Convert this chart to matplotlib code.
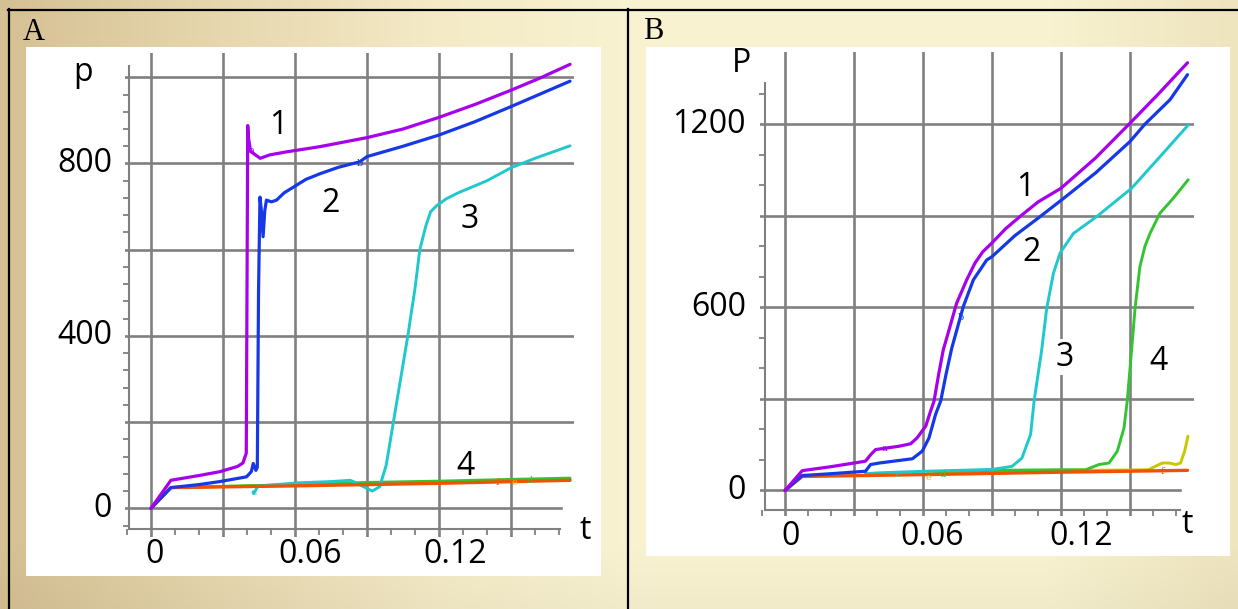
import numpy as np
import matplotlib
matplotlib.use("Agg")
import matplotlib.pyplot as plt
from matplotlib.ticker import MultipleLocator, FixedLocator
from matplotlib.patches import Rectangle
from matplotlib.lines import Line2D

# ---------------- data : panel A ----------------
a1_t = [0, 0.0083, 0.02, 0.0287, 0.036, 0.0383, 0.0397, 0.0400, 0.0403, 0.0406, 0.0415, 0.0435,
        0.0455, 0.0495, 0.0565, 0.0703, 0.09, 0.105, 0.12, 0.135, 0.15, 0.162, 0.1746]
a1_p = [0, 65, 76, 85, 97, 105, 128, 500, 888, 860, 828, 820, 812, 820, 827, 839, 860, 880, 907,
        937, 970, 998, 1030]
a2_t = [0, 0.0083, 0.02, 0.0287, 0.0398, 0.0418, 0.0426, 0.0437, 0.0443, 0.0448, 0.0454, 0.0460,
        0.0467, 0.0474, 0.0481, 0.0502, 0.0523, 0.0555, 0.0593, 0.0645, 0.0703, 0.078, 0.087, 0.09,
        0.105, 0.12, 0.135, 0.15, 0.1746]
a2_p = [0, 48, 55, 62, 73, 85, 104, 88, 95, 500, 722, 690, 630, 690, 715, 711, 715, 732, 745, 763,
        776, 791, 804, 816, 840, 866, 897, 932, 991]
a3_t = [0.0425, 0.0428, 0.0445, 0.05, 0.061, 0.075, 0.083, 0.0855, 0.09, 0.0922, 0.0953, 0.098,
        0.101, 0.104, 0.107, 0.110, 0.112, 0.1145, 0.1165, 0.119, 0.123, 0.128, 0.14, 0.15, 0.16,
        0.1746]
a3_p = [38, 34, 51, 54, 59, 62, 65, 59, 46, 40, 50, 100, 200, 300, 400, 510, 600, 655, 688, 702,
        718, 732, 760, 790, 812, 841]
a_green_t = [0, 0.0083, 0.06, 0.09, 0.12, 0.15, 0.1746]
a_green_p = [0, 48, 55, 60, 63, 67, 70]
a_yellow_t = [0, 0.0083, 0.06, 0.12, 0.1746]
a_yellow_p = [0, 48, 54, 61, 68]
a_orange_t = [0, 0.0083, 0.06, 0.12, 0.1746]
a_orange_p = [0, 48, 52, 58, 65]

# ---------------- data : panel B ----------------
b1_t = [0, 0.0075, 0.02, 0.035, 0.0372, 0.0394, 0.0496, 0.0546, 0.0574, 0.0612, 0.0633, 0.0648,
        0.0668, 0.0688, 0.0717, 0.0746, 0.079, 0.0826, 0.086, 0.09, 0.096, 0.1026, 0.11, 0.12,
        0.135, 0.1496, 0.1625, 0.175]
b1_p = [0, 65, 78, 96, 117, 134, 145, 153, 172, 211, 260, 293, 380, 460, 536, 613, 690, 745, 782,
        811, 858, 900, 945, 990, 1089, 1200, 1300, 1401]
b2_t = [0, 0.0075, 0.02, 0.035, 0.0372, 0.041, 0.0554, 0.0597, 0.0626, 0.0655, 0.0677, 0.070,
        0.0725, 0.0775, 0.0819, 0.0877, 0.09, 0.1, 0.1109, 0.1203, 0.135, 0.15, 0.1565, 0.1674,
        0.175]
b2_p = [0, 49, 55, 63, 85, 90, 104, 129, 172, 250, 293, 380, 466, 602, 690, 755, 766, 835, 897,
        952, 1040, 1143, 1200, 1280, 1362]
b3_t = [0.035, 0.041, 0.061, 0.09, 0.0987, 0.103, 0.1068, 0.1083, 0.1116, 0.1138, 0.1167, 0.1196,
        0.1254, 0.1355, 0.1507, 0.163, 0.1753]
b3_p = [55, 58, 63, 69, 79, 106, 184, 293, 460, 597, 711, 778, 842, 897, 990, 1093, 1197]
b4_t = [0.065, 0.09, 0.12, 0.1307, 0.1365, 0.1409, 0.1445, 0.1474, 0.1488, 0.1507, 0.1522, 0.1543,
        0.1565, 0.1587, 0.163, 0.1688, 0.1753]
b4_p = [62, 66, 68, 68, 85, 90, 129, 205, 293, 460, 597, 733, 800, 842, 908, 957, 1018]
b_yellow_t = [0.062, 0.09, 0.12, 0.15, 0.158, 0.164, 0.167, 0.170, 0.172, 0.1738, 0.1752]
b_yellow_p = [60, 64, 66, 67, 68, 90, 90, 85, 90, 130, 178]
b_orange_t = [0, 0.0075, 0.06, 0.12, 0.175]
b_orange_p = [0, 46, 52, 60, 66]

xgrid = [0, 0.03, 0.06, 0.09, 0.12, 0.15]
xlabels = ["0", "0.06", "0.12"]
xlabel_vals = [0, 0.06, 0.12]
a_ygrid = [0, 200, 400, 600, 800, 1000]
a_ylabels = ["0", "400", "800"]
a_ylabel_vals = [0, 400, 800]
b_ygrid = [0, 300, 600, 900, 1200]
b_ylabels = ["0", "600", "1200"]
b_ylabel_vals = [0, 600, 1200]

PURPLE = "#a600ec"
BLUE = "#1638e6"
CYAN = "#1ec8cc"
GREEN = "#34c431"
YELLOW = "#c8c800"
ORANGE = "#f05200"
GRID = "#808080"

W, H = 1238, 609
fig = plt.figure(figsize=(W / 100, H / 100), dpi=100)

# ---------- background gradient ----------
bg = fig.add_axes([0, 0, 1, 1], zorder=-10)
bg.set_axis_off()
xs = np.linspace(0, 1, 400)
ys = np.linspace(0, 1, 200)
stops = [0, 0.15, 0.35, 0.5, 0.85, 1.0]
cols = np.array([(213, 192, 147), (228, 212, 170), (244, 234, 198), (248, 242, 208),
                 (248, 242, 208), (238, 228, 190)]) / 255.0
row = np.stack([np.interp(xs, stops, cols[:, k]) for k in range(3)], axis=-1)
vfac = 1 - 0.03 * np.clip((ys - 0.9) / 0.1, 0, 1)
img = row[None, :, :] * vfac[:, None, None]
bg.imshow(img, aspect="auto", extent=[0, 1, 0, 1], origin="upper")
bg.set_xlim(0, 1)
bg.set_ylim(0, 1)


def fx(px):
    return px / W


def fy(py):
    return 1 - py / H


# white panels
for (x0, y0, x1, y1) in [(26, 47, 601, 576), (646, 47, 1230, 556)]:
    fig.patches.append(Rectangle((fx(x0), fy(y1)), fx(x1) - fx(x0), fy(y0) - fy(y1),
                                 transform=fig.transFigure, facecolor="white",
                                 edgecolor="none", zorder=-5))
# table borders
for (xa, ya, xb, yb) in [(8, 9.5, 1238, 9.5), (8.5, 9, 8.5, 609), (628, 9, 628, 609)]:
    fig.lines.append(Line2D([fx(xa), fx(xb)], [fy(ya), fy(yb)], transform=fig.transFigure,
                            color="black", lw=1.6, zorder=-4))

fig.text(fx(23), fy(40), "A", family="Liberation Serif", fontsize=22, ha="left", va="baseline")
fig.text(fx(643), fy(39), "B", family="Liberation Serif", fontsize=22, ha="left", va="baseline")

NUMFONT = dict(family="Open Sans", fontsize=23, color="black")


def make_axes(rect_px, xlim, ylim, ygrid, yminor_ticks, spine_x, spine_y, xspine_end, yspine_end,
              hfrac):
    x0, y0, x1, y1 = rect_px
    ax = fig.add_axes([fx(x0), fy(y1), fx(x1) - fx(x0), fy(y0) - fy(y1)])
    ax.set_facecolor("none")
    ax.set_xlim(*xlim)
    ax.set_ylim(*ylim)
    ax.set_xticks(xgrid)
    ax.set_yticks(ygrid)
    ax.xaxis.set_minor_locator(MultipleLocator(0.01))
    ax.yaxis.set_minor_locator(FixedLocator(yminor_ticks))
    ax.tick_params(which="major", length=0, labelbottom=False, labelleft=False)
    ax.tick_params(which="minor", length=4, width=1.3, color=GRID, direction="out")
    ax.grid(True, axis="x", color=GRID, lw=1.9, zorder=0)
    for v in ygrid:
        ax.axhline(v, xmin=0, xmax=(hfrac if v == 0 else 1), color=GRID, lw=1.9, zorder=0)
    for s in ["top", "right"]:
        ax.spines[s].set_visible(False)
    ax.spines["left"].set_position(("data", spine_x))
    ax.spines["left"].set_bounds(spine_y, yspine_end)
    ax.spines["bottom"].set_position(("data", spine_y))
    ax.spines["bottom"].set_bounds(spine_x, xspine_end)
    for s in ["left", "bottom"]:
        ax.spines[s].set_color(GRID)
        ax.spines[s].set_linewidth(1.5)
    return ax


LINE = dict(solid_joinstyle="round", solid_capstyle="round")

# ---------------- panel A ----------------
axA = make_axes((124.5, 52.5, 573.5, 537), (-0.01104, 0.17604), (-66.6, 1057.5), a_ygrid,
                list(range(-40, 1030, 40)), -0.00916, -48, 0.1706, 1026, 0.972)
lw = 2.1
axA.plot(a_yellow_t, a_yellow_p, color=YELLOW, lw=lw, zorder=3, **LINE)
axA.plot(a_green_t, a_green_p, color=GREEN, lw=lw, zorder=3, **LINE)
axA.plot(a3_t, a3_p, color=CYAN, lw=lw, zorder=3, **LINE)
axA.plot(a_orange_t, a_orange_p, color=ORANGE, lw=lw + 0.3, zorder=4, **LINE)
axA.plot(a2_t, a2_p, color=BLUE, lw=lw + 0.2, zorder=5, **LINE)
axA.plot(a1_t, a1_p, color=PURPLE, lw=lw + 0.2, zorder=6, **LINE)

for v, lab, dx in zip(xlabel_vals, xlabels, [0.00166, 0.0062, 0.0069]):
    axA.text(v + dx, -108, lab, ha="center", va="center", clip_on=False, **NUMFONT)
for v, lab in zip(a_ylabel_vals, a_ylabels):
    axA.text(-0.01623, v, lab, ha="right", va="center", clip_on=False, **NUMFONT)
axA.text(-0.0283, 1010, "p", ha="center", va="center", clip_on=False, **NUMFONT)
axA.text(0.1810, -51, "t", ha="center", va="center", clip_on=False, **NUMFONT)
for (tx, ty, lab) in [(0.0529, 887, "1"), (0.0749, 708, "2"), (0.1328, 671, "3"), (0.1311, 96, "4")]:
    axA.text(tx, ty, lab, ha="center", va="center", zorder=8, **NUMFONT)
for (tx, ty, lab, c) in [(0.0420, 831, "a", PURPLE), (0.087, 801, "b", BLUE), (0.0429, 36, "c", CYAN),
                         (0.1444, 59, "f", ORANGE), (0.1515, 59, "e", YELLOW), (0.1577, 64, "d", GREEN)]:
    axA.text(tx, ty, lab, ha="center", va="center", family="DejaVu Serif", fontsize=7, color=c,
             zorder=9)

# ---------------- panel B ----------------
axB = make_axes((759.8, 51.5, 1194, 515.5), (-0.010957, 0.17783), (-81.9, 1437.9), b_ygrid,
                list(range(0, 1336, 100)), -0.0087, -62.9, 0.1717, 1336, 0.968)
axB.plot(b_yellow_t, b_yellow_p, color=YELLOW, lw=lw, zorder=3, **LINE)
axB.plot(b4_t, b4_p, color=GREEN, lw=lw, zorder=3, **LINE)
axB.plot(b3_t, b3_p, color=CYAN, lw=lw, zorder=3, **LINE)
axB.plot(b_orange_t, b_orange_p, color=ORANGE, lw=lw + 0.3, zorder=4, **LINE)
axB.plot(b2_t, b2_p, color=BLUE, lw=lw + 0.2, zorder=5, **LINE)
axB.plot(b1_t, b1_p, color=PURPLE, lw=lw + 0.2, zorder=6, **LINE)

for v, lab, dx in zip(xlabel_vals, xlabels, [0.0026, 0.0039, 0.0087]):
    axB.text(v + dx, -150.7, lab, ha="center", va="center", clip_on=False, **NUMFONT)
for v, lab in zip(b_ylabel_vals, b_ylabels):
    axB.text(-0.01696, v, lab, ha="right", va="center", clip_on=False, **NUMFONT)
axB.text(-0.0187, 1400, "P", ha="center", va="center", clip_on=False, **NUMFONT)
axB.text(0.1748, -110, "t", ha="center", va="center", clip_on=False, **NUMFONT)
for (tx, ty, lab) in [(0.1043, 991, "1"), (0.1074, 778, "2"), (0.1626, 421, "4")]:
    axB.text(tx, ty, lab, ha="center", va="center", zorder=8, **NUMFONT)
axB.text(0.1217, 437, "3", ha="center", va="center", zorder=8,
         bbox=dict(facecolor="white", edgecolor="none", pad=1), **NUMFONT)
for (tx, ty, lab, c) in [(0.0430, 136, "a", PURPLE), (0.0764, 565, "b", BLUE), (0.0491, 51, "c", CYAN),
                         (0.0622, 44, "e", YELLOW), (0.0687, 51, "d", GREEN), (0.1639, 61, "f", ORANGE)]:
    axB.text(tx, ty, lab, ha="center", va="center", family="DejaVu Serif", fontsize=7, color=c,
             zorder=9)

fig.savefig("out.png", dpi=100)
